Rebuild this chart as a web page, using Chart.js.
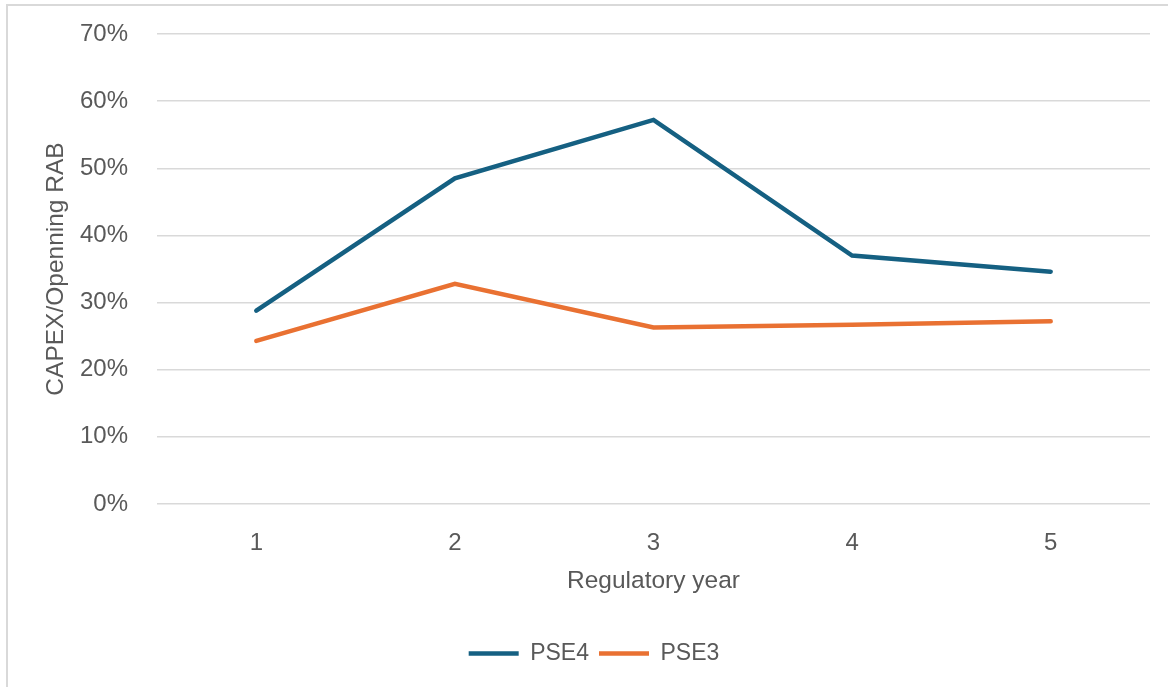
<!DOCTYPE html>
<html>
<head>
<meta charset="utf-8">
<script src="https://cdn.jsdelivr.net/npm/chart.js@4"></script>
<style>
  html, body { margin: 0; padding: 0; background: #fff; }
  #wrap { width: 1168px; height: 687px; position: relative; }
</style>
</head>
<body>
<div id="wrap"><canvas id="chart"></canvas></div>
<script>
const years = ['1', '2', '3', '4', '5'];
const pse4 = [28.8, 48.5, 57.2, 37.0, 34.6];
const pse3 = [24.3, 32.8, 26.3, 26.7, 27.2];

const textColour = '#595959';
const gridColour = '#d9d9d9';
const fontFamily = '"Liberation Sans", Arial, sans-serif';

// light frame around the chart, like the exported Excel picture
const frame = {
  id: 'frame',
  beforeDraw(chart) {
    const ctx = chart.ctx;
    ctx.save();
    ctx.strokeStyle = gridColour;
    ctx.lineWidth = 2;
    ctx.strokeRect(7, 5, chart.width + 20, chart.height + 20);
    ctx.restore();
  }
};

new Chart(document.getElementById('chart'), {
  type: 'line',
  data: {
    labels: years,
    datasets: [{
      label: 'PSE4',
      data: pse4,
      borderColor: '#156082',
      backgroundColor: '#156082',
      borderWidth: 4.5,
      borderCapStyle: 'round',
      borderJoinStyle: 'miter',
      pointRadius: 0,
      tension: 0
    }, {
      label: 'PSE3',
      data: pse3,
      borderColor: '#e97132',
      backgroundColor: '#e97132',
      borderWidth: 4.5,
      borderCapStyle: 'round',
      borderJoinStyle: 'miter',
      pointRadius: 0,
      tension: 0
    }]
  },
  options: {
    responsive: true,
    maintainAspectRatio: false,
    animation: false,
    layout: {
      padding: {left: 38, right: 18, top: 34, bottom: 12}
    },
    plugins: {
      legend: {
        position: 'bottom',
        labels: {
          usePointStyle: true,
          pointStyle: 'line',
          pointStyleWidth: 50,
          color: textColour,
          padding: 10,
          font: {family: fontFamily, size: 23}
        }
      },
      tooltip: {enabled: false}
    },
    scales: {
      x: {
        offset: true,
        afterFit(scale) { scale.height = 128; },
        grid: {display: false},
        border: {display: false},
        ticks: {
          color: textColour,
          padding: 17,
          font: {family: fontFamily, size: 24}
        },
        title: {
          display: true,
          text: 'Regulatory year',
          color: textColour,
          padding: {top: 0, bottom: 36},
          font: {family: fontFamily, size: 24.5}
        }
      },
      y: {
        min: 0,
        max: 70,
        afterFit(scale) {
          scale.width = 119;
          // big tick padding should not push the plot down
          scale.paddingTop = 0;
          scale.paddingBottom = 0;
        },
        grid: {color: gridColour, lineWidth: 1.5, drawTicks: false},
        border: {display: false},
        ticks: {
          stepSize: 10,
          color: textColour,
          padding: 29,
          font: {family: fontFamily, size: 24},
          callback: (v) => v + '%'
        },
        title: {
          display: true,
          text: 'CAPEX/Openning RAB',
          color: textColour,
          padding: {top: 4, bottom: 0},
          font: {family: fontFamily, size: 24.5}
        }
      }
    }
  },
  plugins: [frame]
});
</script>
</body>
</html>
